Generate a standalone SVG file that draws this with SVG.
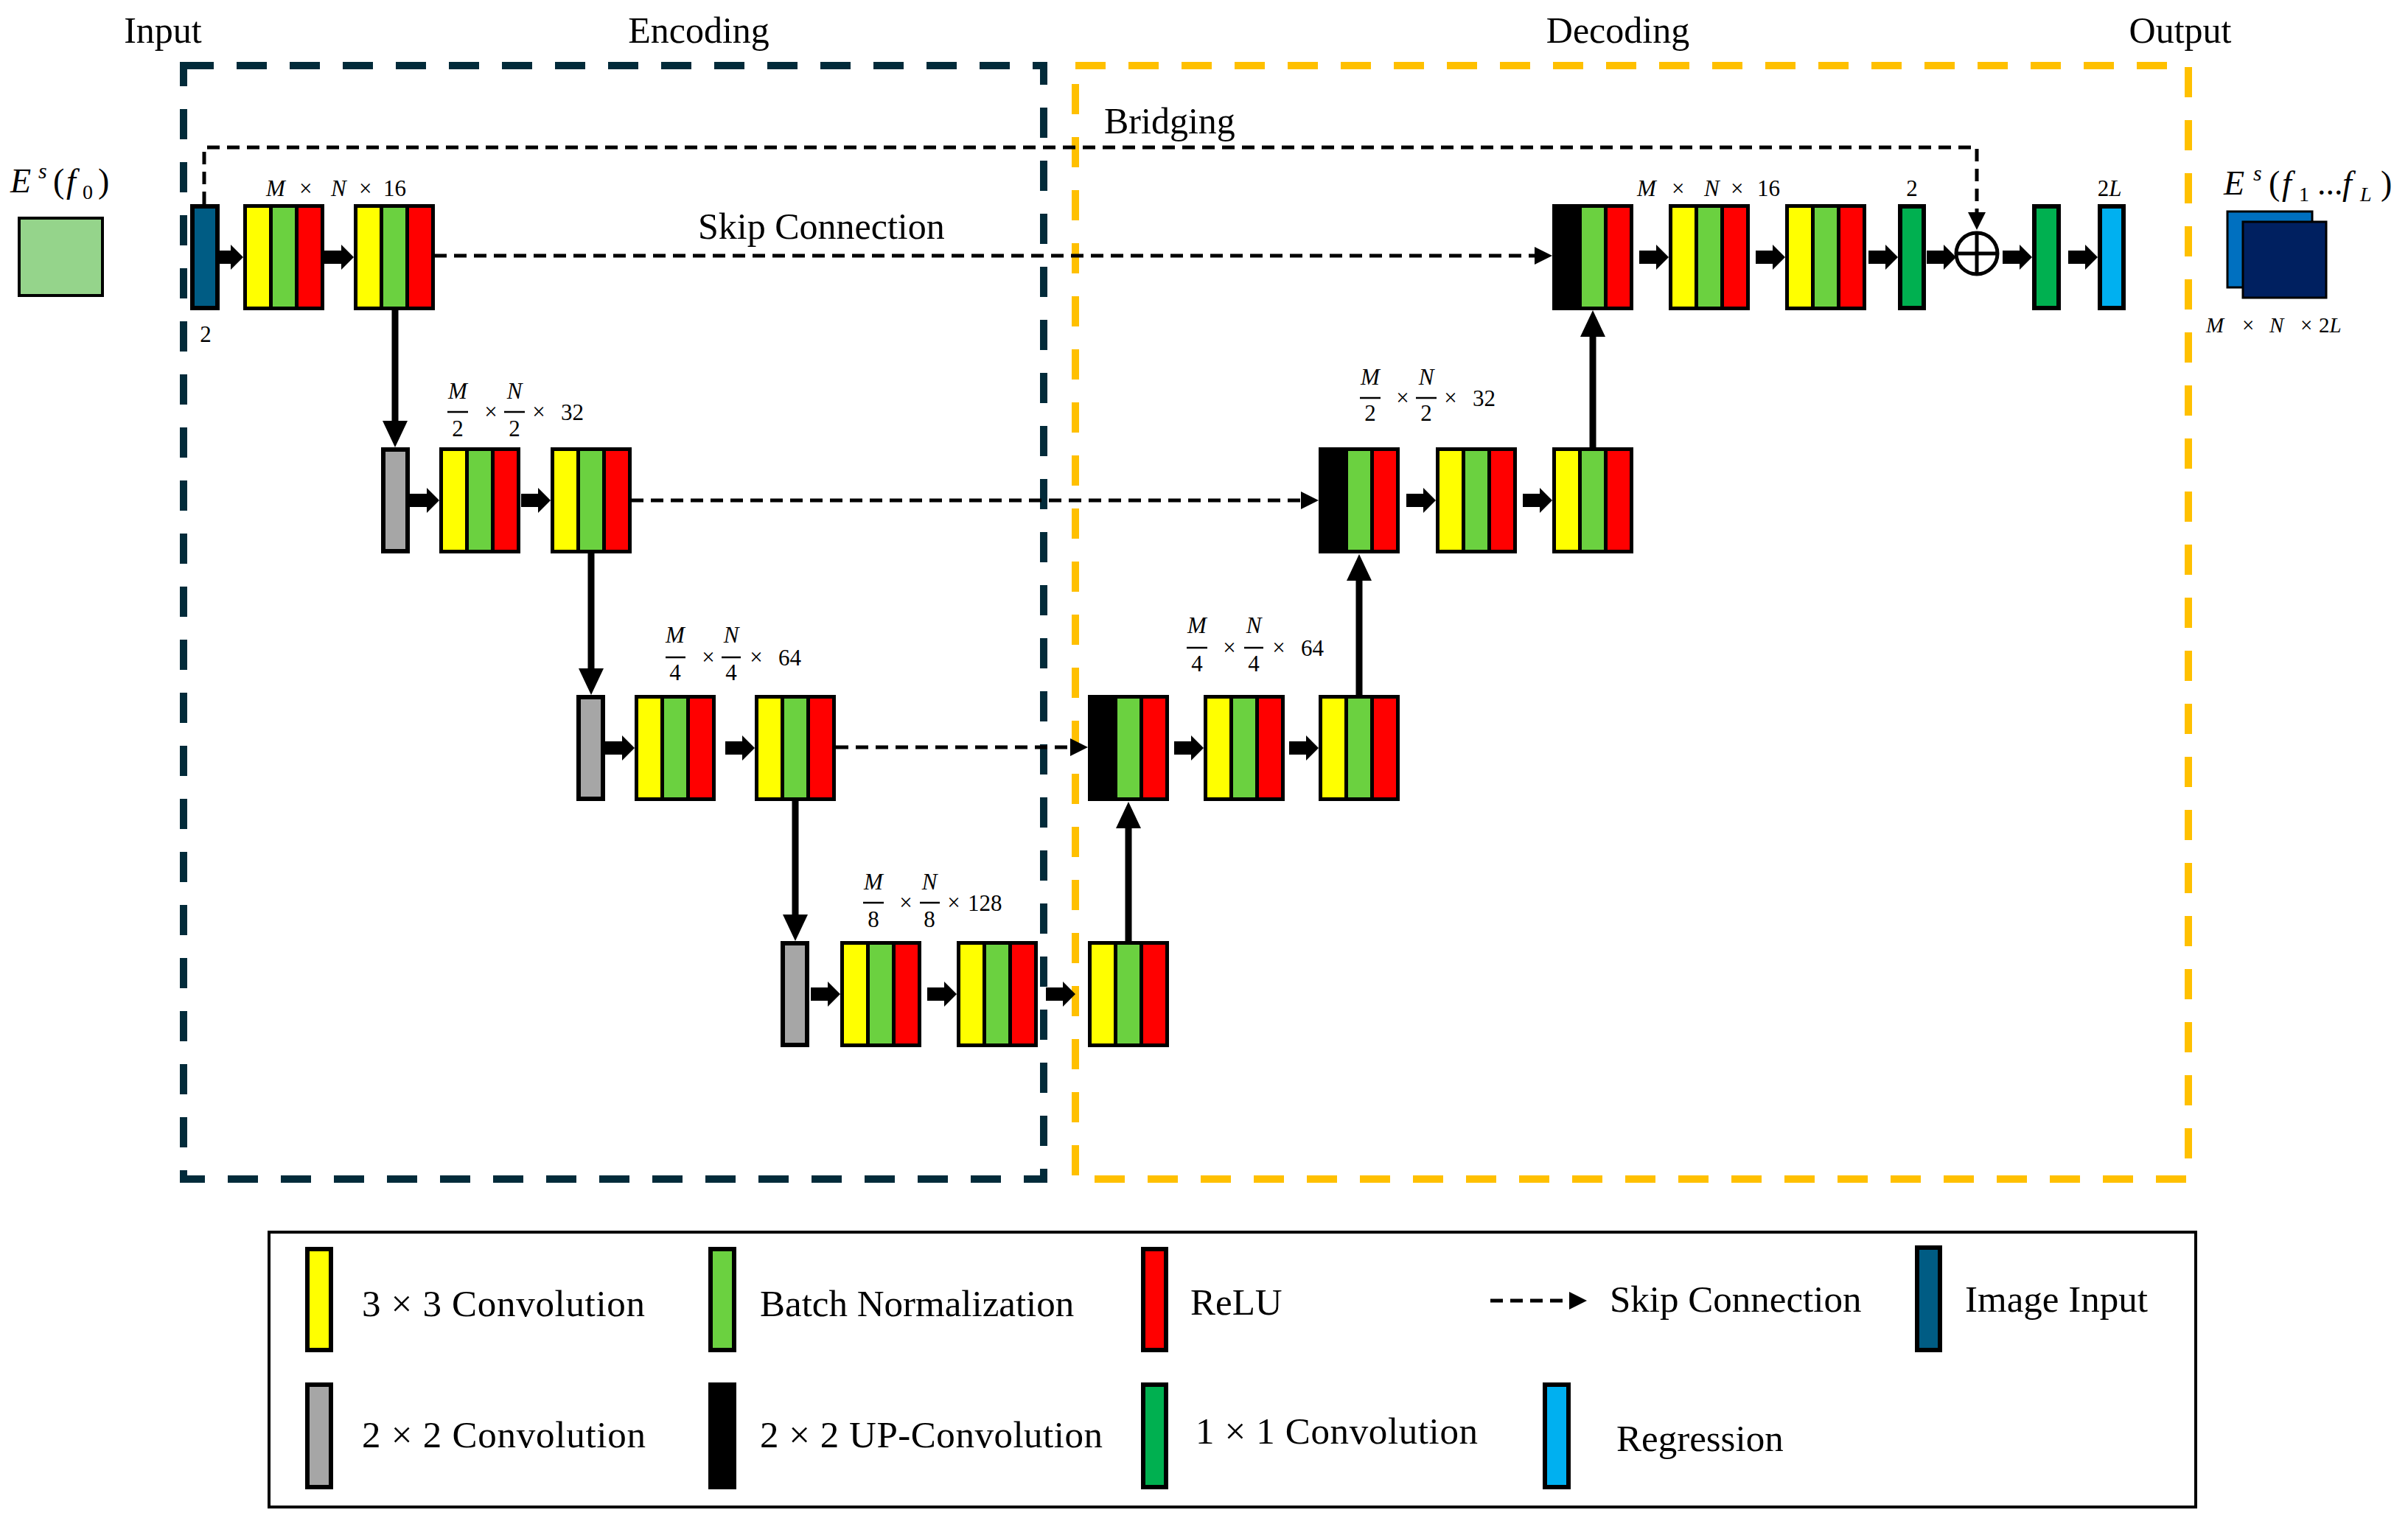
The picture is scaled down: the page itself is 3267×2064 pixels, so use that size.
<svg xmlns="http://www.w3.org/2000/svg" xmlns:xlink="http://www.w3.org/1999/xlink" width="3267" height="2064" viewBox="0 0 3267 2064">
<style>
text{font-family:"Liberation Serif","Times New Roman",serif;fill:#000}
.h{font-size:50px}
.lg{font-size:51px}
.m{font-size:31px}
.mi{font-style:italic}
.k{fill:#000}
.y{fill:#FFFF00}
.g{fill:#6BD140}
.r{fill:#FF0000}
.bar{stroke:#000;stroke-width:6}
.gray{fill:#A6A6A6}
.inb{fill:#005C84}
.dg{fill:#00B050}
.reg{fill:#00B0F0}
.skip{fill:none;stroke:#000;stroke-width:5;stroke-dasharray:17 10}
.vline{fill:none;stroke:#000;stroke-width:9}
.frac{stroke:#000;stroke-width:2.5}
.enc{fill:none;stroke:#022B3A;stroke-width:10;stroke-dasharray:41 31}
.dec{fill:none;stroke:#FFC000;stroke-width:10;stroke-dasharray:41 31}
</style>
<defs>
<marker id="ah" markerUnits="userSpaceOnUse" markerWidth="36" markerHeight="34" viewBox="0 0 36 34" refX="0" refY="17" orient="auto"><path d="M0,0 L36,17 L0,34 Z" fill="#000"/></marker>
<marker id="sh" markerUnits="userSpaceOnUse" markerWidth="24" markerHeight="24" viewBox="0 0 24 24" refX="0" refY="12" orient="auto"><path d="M0,0 L24,12 L0,24 Z" fill="#000"/></marker>
<path id="ba" d="M-40,-9 H-17 V-17 L0,0 L-17,17 V9 H-40 Z" fill="#000"/>
<g id="blk">
<rect class="k" x="0" y="0" width="110" height="144"/>
<rect class="y" x="5" y="5" width="30" height="134"/>
<rect class="g" x="40" y="5" width="30" height="134"/>
<rect class="r" x="75" y="5" width="30" height="134"/>
</g>
<g id="up">
<rect class="k" x="0" y="0" width="110" height="144"/>
<rect class="g" x="40" y="5" width="30" height="134"/>
<rect class="r" x="75" y="5" width="30" height="134"/>
</g>
</defs>
<rect width="3267" height="2064" fill="#fff"/>

<!-- section headings -->
<text class="h" x="221" y="58" text-anchor="middle">Input</text>
<text class="h" x="948" y="58" text-anchor="middle">Encoding</text>
<text class="h" x="2195" y="58" text-anchor="middle">Decoding</text>
<text class="h" x="2958" y="58" text-anchor="middle">Output</text>

<!-- dashed region boxes -->
<g id="regions">
<rect class="enc" x="249" y="89" width="1167" height="1511"/>
<rect class="dec" x="1459" y="89" width="1510" height="1511"/>
</g>

<text class="h" x="1498" y="181">Bridging</text>
<text class="h" x="947" y="324">Skip Connection</text>

<!-- connectors -->
<g id="connectors">
<path class="skip" d="M277,277 V200 H2682 V288" marker-end="url(#sh)"/>
<path class="skip" d="M589,347 H2082" marker-end="url(#sh)"/>
<path class="skip" d="M856,679 H1765" marker-end="url(#sh)"/>
<path class="skip" d="M1134,1014 H1452" marker-end="url(#sh)"/>
<path class="vline" d="M536,420 V571" marker-end="url(#ah)"/>
<path class="vline" d="M802,751 V907" marker-end="url(#ah)"/>
<path class="vline" d="M1079,1087 V1241" marker-end="url(#ah)"/>
<path class="vline" d="M1531,1277 V1124" marker-end="url(#ah)"/>
<path class="vline" d="M1844,943 V788" marker-end="url(#ah)"/>
<path class="vline" d="M2161,607 V457" marker-end="url(#ah)"/>
<use xlink:href="#ba" x="330" y="349"/>
<use xlink:href="#ba" x="480" y="349"/>
<use xlink:href="#ba" x="2264" y="349"/>
<use xlink:href="#ba" x="2422" y="349"/>
<use xlink:href="#ba" x="2575" y="349"/>
<use xlink:href="#ba" x="2654" y="349"/>
<use xlink:href="#ba" x="2757" y="349"/>
<use xlink:href="#ba" x="2846" y="349"/>
<use xlink:href="#ba" x="596" y="679"/>
<use xlink:href="#ba" x="747" y="679"/>
<use xlink:href="#ba" x="1948" y="679"/>
<use xlink:href="#ba" x="2106" y="679"/>
<use xlink:href="#ba" x="861" y="1015"/>
<use xlink:href="#ba" x="1024" y="1015"/>
<use xlink:href="#ba" x="1633" y="1015"/>
<use xlink:href="#ba" x="1789" y="1015"/>
<use xlink:href="#ba" x="1140" y="1349"/>
<use xlink:href="#ba" x="1298" y="1349"/>
<use xlink:href="#ba" x="1459" y="1349"/>
</g>

<!-- input -->
<g id="input-image">
<rect x="26" y="296" width="113" height="105" fill="#95D48B" stroke="#000" stroke-width="4"/>
<text x="14" y="261" font-size="46"><tspan class="mi">E</tspan><tspan x="52" y="242" font-size="30" class="mi">s</tspan><tspan x="72" y="261">(</tspan><tspan x="90" y="261" class="mi">f</tspan><tspan x="112" y="270" font-size="28">0</tspan><tspan x="133" y="261">)</tspan></text>
</g>
<g id="image-input-bar">
<rect class="bar inb" x="261" y="280" width="34" height="138"/>
<text class="m" x="279" y="464" text-anchor="middle">2</text>
</g>

<!-- encoder level 1 -->
<g id="enc1a"><use xlink:href="#blk" x="330" y="277"/></g>
<g id="enc1b"><use xlink:href="#blk" x="480" y="277"/></g>
<text class="m" y="266"><tspan class="mi" x="361">M</tspan><tspan x="406">×</tspan><tspan class="mi" x="449">N</tspan><tspan x="487">×</tspan><tspan x="520">16</tspan></text>

<!-- encoder level 2 -->
<g id="enc2pool"><rect class="bar gray" x="520" y="610" width="33" height="138"/></g>
<g id="enc2a"><use xlink:href="#blk" x="596" y="607"/></g>
<g id="enc2b"><use xlink:href="#blk" x="747" y="607"/></g>
<g>
<text class="m mi" x="621" y="541" text-anchor="middle">M</text><line class="frac" x1="607" y1="559" x2="635" y2="559"/><text class="m" x="621" y="592" text-anchor="middle">2</text>
<text class="m" x="666" y="569" text-anchor="middle">×</text>
<text class="m mi" x="698" y="541" text-anchor="middle">N</text><line class="frac" x1="684" y1="559" x2="712" y2="559"/><text class="m" x="698" y="592" text-anchor="middle">2</text>
<text class="m" x="731" y="569" text-anchor="middle">×</text>
<text class="m" x="761" y="570">32</text>
</g>

<!-- encoder level 3 -->
<g id="enc3pool"><rect class="bar gray" x="785" y="946" width="33" height="138"/></g>
<g id="enc3a"><use xlink:href="#blk" x="861" y="943"/></g>
<g id="enc3b"><use xlink:href="#blk" x="1024" y="943"/></g>
<g>
<text class="m mi" x="916" y="872" text-anchor="middle">M</text><line class="frac" x1="903" y1="892" x2="930" y2="892"/><text class="m" x="916" y="923" text-anchor="middle">4</text>
<text class="m" x="961" y="902" text-anchor="middle">×</text>
<text class="m mi" x="992" y="872" text-anchor="middle">N</text><line class="frac" x1="979" y1="892" x2="1005" y2="892"/><text class="m" x="992" y="923" text-anchor="middle">4</text>
<text class="m" x="1026" y="902" text-anchor="middle">×</text>
<text class="m" x="1056" y="903">64</text>
</g>

<!-- encoder level 4 (bottleneck) -->
<g id="enc4pool"><rect class="bar gray" x="1062" y="1280" width="33" height="138"/></g>
<g id="enc4a"><use xlink:href="#blk" x="1140" y="1277"/></g>
<g id="enc4b"><use xlink:href="#blk" x="1298" y="1277"/></g>
<g>
<text class="m mi" x="1185" y="1207" text-anchor="middle">M</text><line class="frac" x1="1171" y1="1225" x2="1199" y2="1225"/><text class="m" x="1185" y="1258" text-anchor="middle">8</text>
<text class="m" x="1229" y="1235" text-anchor="middle">×</text>
<text class="m mi" x="1261" y="1207" text-anchor="middle">N</text><line class="frac" x1="1248" y1="1225" x2="1275" y2="1225"/><text class="m" x="1261" y="1258" text-anchor="middle">8</text>
<text class="m" x="1294" y="1235" text-anchor="middle">×</text>
<text class="m" x="1313" y="1236">128</text>
</g>

<!-- decoder level 4 -->
<g id="dec4"><use xlink:href="#blk" x="1476" y="1277"/></g>

<!-- decoder level 3 -->
<g id="dec3up"><use xlink:href="#up" x="1476" y="943"/></g>
<g id="dec3a"><use xlink:href="#blk" x="1633" y="943"/></g>
<g id="dec3b"><use xlink:href="#blk" x="1789" y="943"/></g>
<g>
<text class="m mi" x="1624" y="859" text-anchor="middle">M</text><line class="frac" x1="1610" y1="879" x2="1638" y2="879"/><text class="m" x="1624" y="911" text-anchor="middle">4</text>
<text class="m" x="1668" y="889" text-anchor="middle">×</text>
<text class="m mi" x="1701" y="859" text-anchor="middle">N</text><line class="frac" x1="1688" y1="879" x2="1714" y2="879"/><text class="m" x="1701" y="911" text-anchor="middle">4</text>
<text class="m" x="1735" y="889" text-anchor="middle">×</text>
<text class="m" x="1765" y="890">64</text>
</g>

<!-- decoder level 2 -->
<g id="dec2up"><use xlink:href="#up" x="1789" y="607"/></g>
<g id="dec2a"><use xlink:href="#blk" x="1948" y="607"/></g>
<g id="dec2b"><use xlink:href="#blk" x="2106" y="607"/></g>
<g>
<text class="m mi" x="1859" y="522" text-anchor="middle">M</text><line class="frac" x1="1845" y1="540" x2="1873" y2="540"/><text class="m" x="1859" y="571" text-anchor="middle">2</text>
<text class="m" x="1903" y="550" text-anchor="middle">×</text>
<text class="m mi" x="1935" y="522" text-anchor="middle">N</text><line class="frac" x1="1921" y1="540" x2="1949" y2="540"/><text class="m" x="1935" y="571" text-anchor="middle">2</text>
<text class="m" x="1968" y="550" text-anchor="middle">×</text>
<text class="m" x="1998" y="551">32</text>
</g>

<!-- decoder level 1 -->
<g id="dec1up"><use xlink:href="#up" x="2106" y="277"/></g>
<g id="dec1a"><use xlink:href="#blk" x="2264" y="277"/></g>
<g id="dec1b"><use xlink:href="#blk" x="2422" y="277"/></g>
<text class="m" y="266"><tspan class="mi" x="2221">M</tspan><tspan x="2268">×</tspan><tspan class="mi" x="2312">N</tspan><tspan x="2348">×</tspan><tspan x="2384">16</tspan></text>
<g id="conv1x1a">
<rect class="bar dg" x="2578" y="280" width="32" height="138"/>
<text class="m" x="2594" y="266" text-anchor="middle">2</text>
</g>
<g id="sum">
<circle cx="2682" cy="344" r="28" fill="#fff" stroke="#000" stroke-width="5"/>
<line x1="2654" y1="344" x2="2710" y2="344" stroke="#000" stroke-width="5"/>
<line x1="2682" y1="316" x2="2682" y2="372" stroke="#000" stroke-width="5"/>
</g>
<g id="conv1x1b"><rect class="bar dg" x="2760" y="280" width="33" height="138"/></g>
<g id="regression">
<rect class="bar reg" x="2849" y="280" width="32" height="138"/>
<text class="m" x="2862" y="266" text-anchor="middle">2<tspan class="mi">L</tspan></text>
</g>

<!-- output -->
<g id="output">
<rect x="3022" y="287" width="115" height="103" fill="#0070C0" stroke="#000" stroke-width="3"/>
<rect x="3043" y="301" width="113" height="103" fill="#002060" stroke="#000" stroke-width="3"/>
<text x="3017" y="264" font-size="46"><tspan class="mi">E</tspan><tspan x="3057" y="245" font-size="30" class="mi">s</tspan><tspan x="3078" y="264">(</tspan><tspan x="3096" y="264" class="mi">f</tspan><tspan x="3119" y="273" font-size="28">1</tspan><tspan x="3144" y="264">...</tspan><tspan x="3178" y="264" class="mi">f</tspan><tspan x="3202" y="273" font-size="28" class="mi">L</tspan><tspan x="3230" y="264">)</tspan></text>
<text font-size="29" y="451"><tspan class="mi" x="2993">M</tspan><tspan x="3042">×</tspan><tspan class="mi" x="3079">N</tspan><tspan x="3121">×</tspan><tspan x="3146">2</tspan><tspan class="mi">L</tspan></text>
</g>

<!-- legend -->
<g id="legend">
<rect x="365" y="1672" width="2614" height="373" fill="none" stroke="#000" stroke-width="4"/>
<rect class="bar y" x="417" y="1695" width="32" height="137"/>
<text class="lg" x="491" y="1786" textLength="384" lengthAdjust="spacing">3 × 3 Convolution</text>
<rect class="bar g" x="964" y="1695" width="32" height="137"/>
<text class="lg" x="1031" y="1786">Batch Normalization</text>
<rect class="bar r" x="1551" y="1695" width="31" height="137"/>
<text class="lg" x="1615" y="1784">ReLU</text>
<path class="skip" d="M2022,1765 H2129" marker-end="url(#sh)"/>
<text class="lg" x="2184" y="1780">Skip Connection</text>
<rect class="bar inb" x="2601" y="1693" width="31" height="139"/>
<text class="lg" x="2666" y="1780">Image Input</text>
<rect class="bar gray" x="417" y="1879" width="32" height="139"/>
<text class="lg" x="491" y="1964" textLength="385" lengthAdjust="spacing">2 × 2 Convolution</text>
<rect class="k" x="961" y="1876" width="38" height="145"/>
<text class="lg" x="1031" y="1964" textLength="465" lengthAdjust="spacing">2 × 2 UP-Convolution</text>
<rect class="bar dg" x="1551" y="1879" width="31" height="139"/>
<text class="lg" x="1622" y="1959" textLength="383" lengthAdjust="spacing">1 × 1 Convolution</text>
<rect class="bar reg" x="2096" y="1879" width="32" height="139"/>
<text class="lg" x="2193" y="1969">Regression</text>
</g>
</svg>
